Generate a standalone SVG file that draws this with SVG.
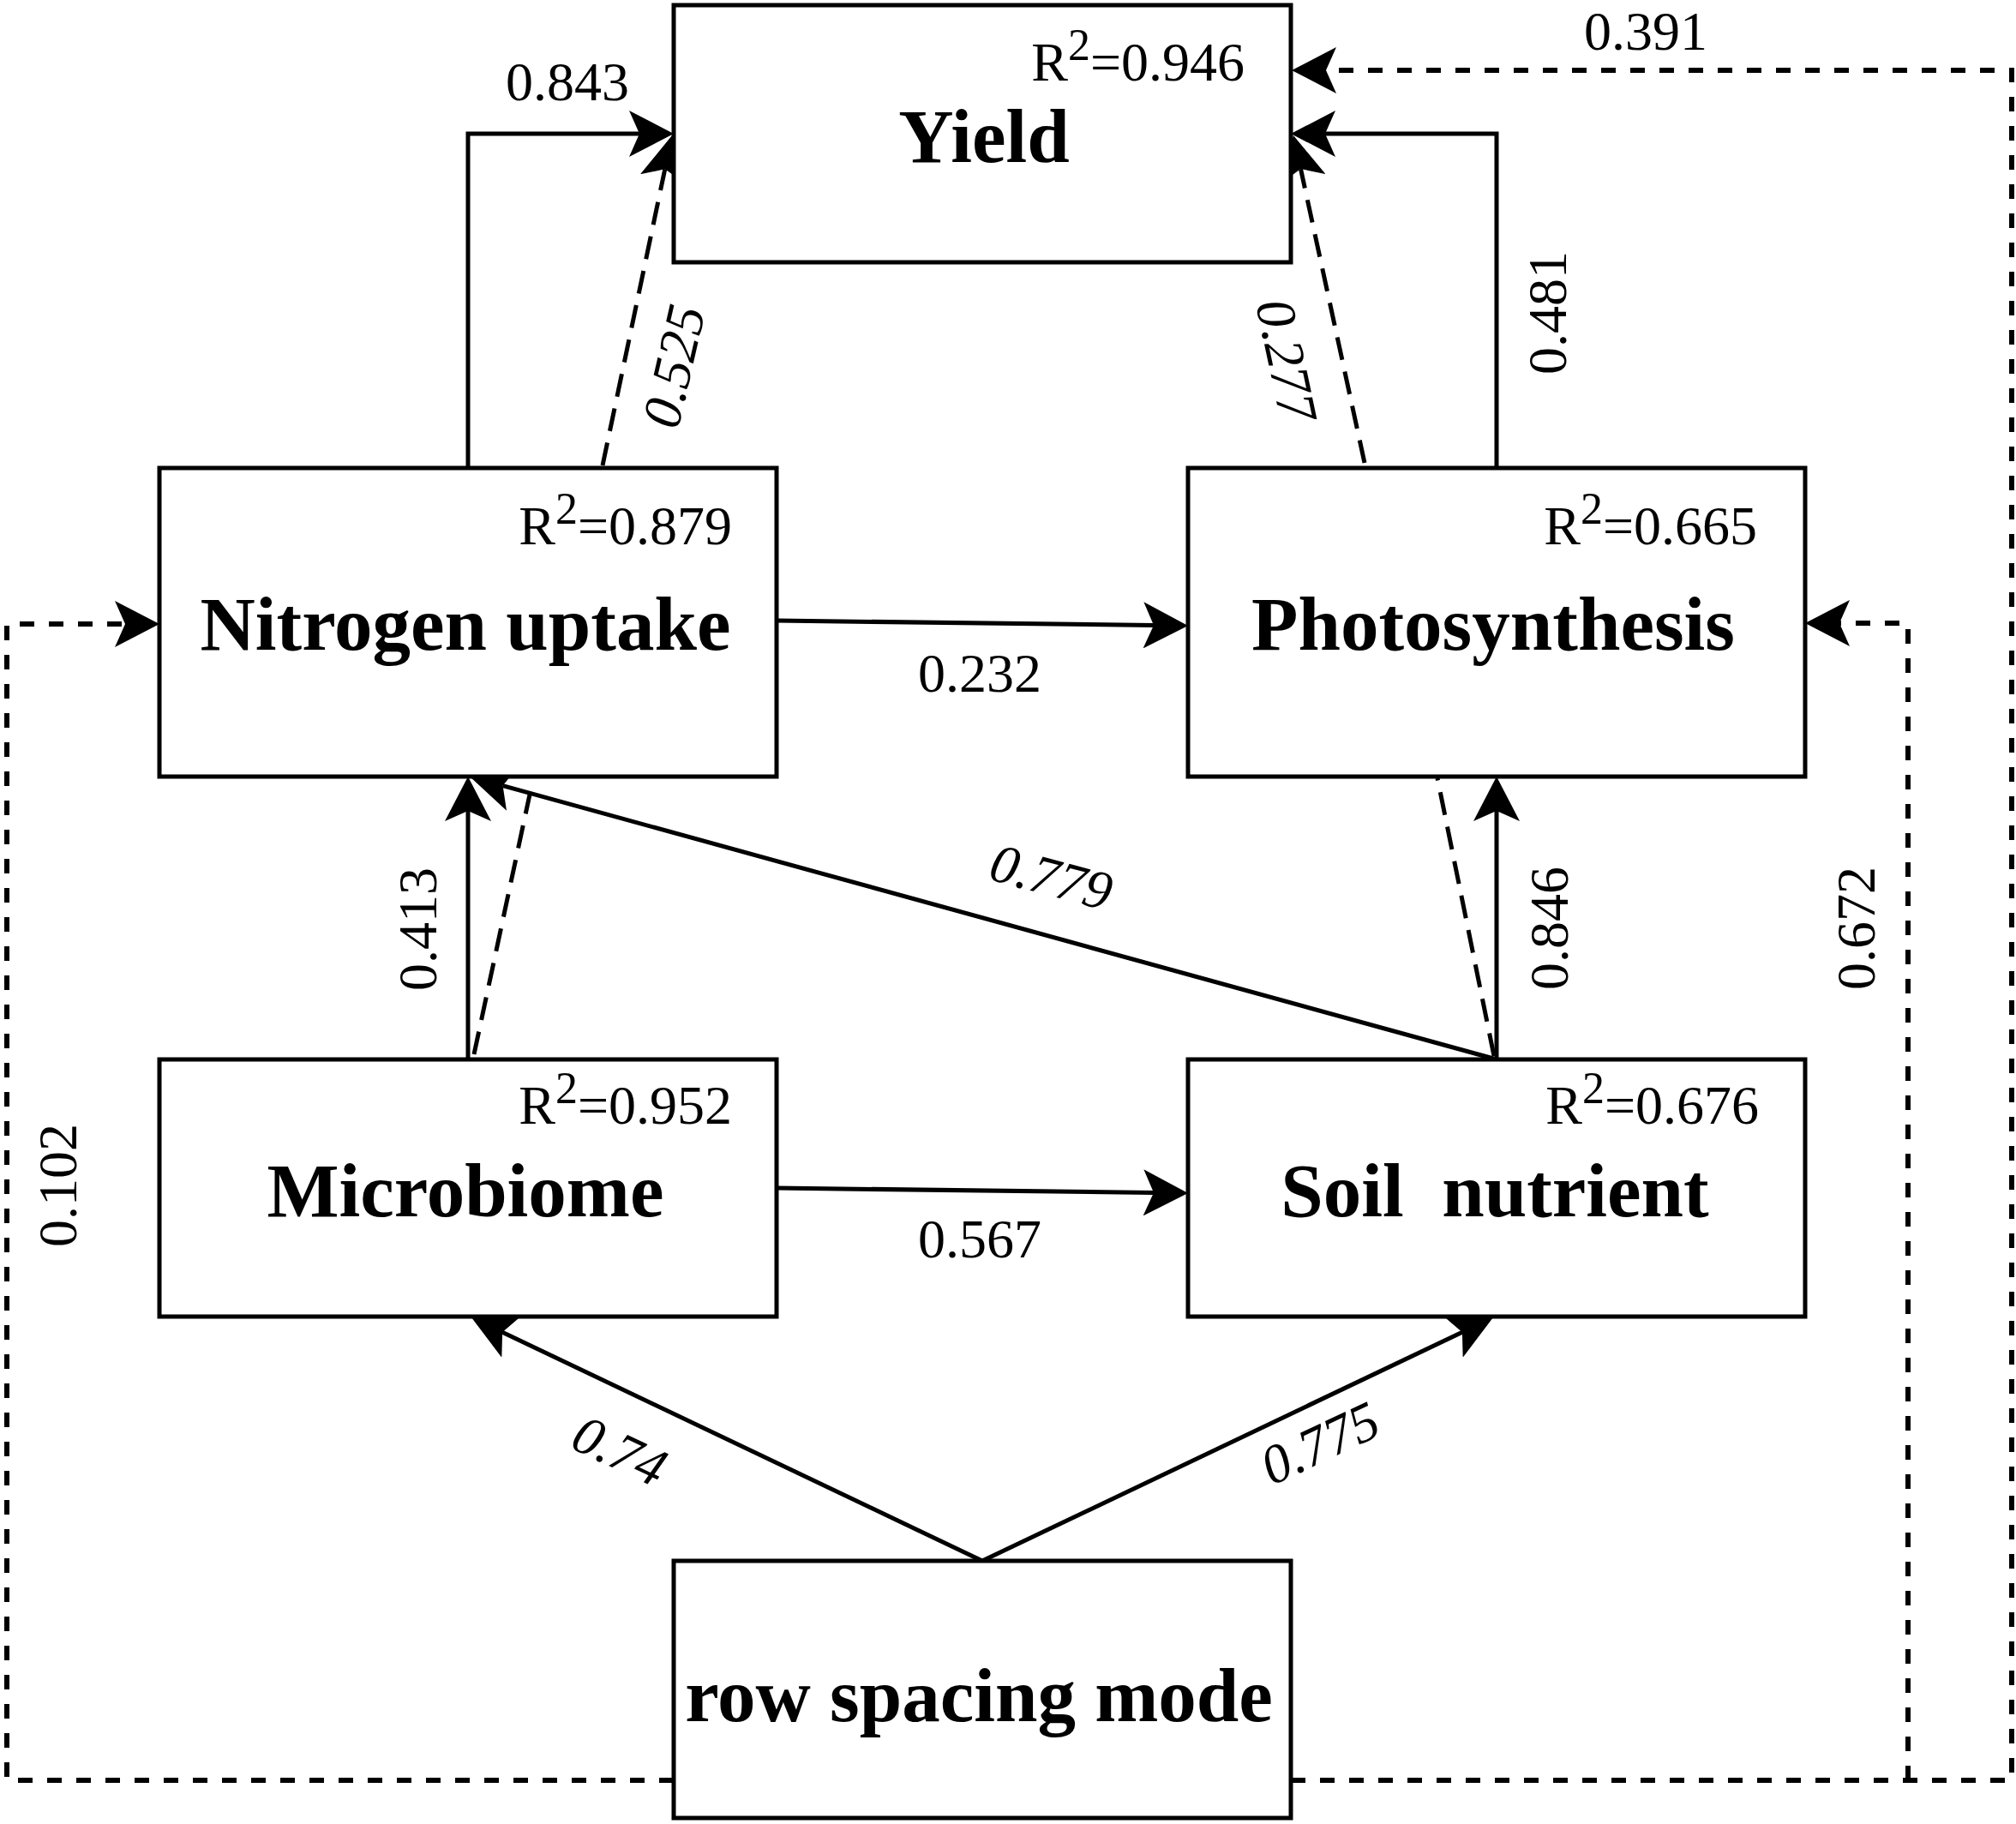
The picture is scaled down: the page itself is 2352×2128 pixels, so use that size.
<svg xmlns="http://www.w3.org/2000/svg" width="2352" height="2128" viewBox="0 0 2352 2128">
<style>
.box{fill:#fff;stroke:#000;stroke-width:5}
.title{font-family:"Liberation Serif","Times New Roman",serif;font-weight:bold;font-size:89px;text-anchor:middle;fill:#000}
.r2{font-family:"Liberation Serif","Times New Roman",serif;font-size:64px;text-anchor:end;fill:#000}
.lbl{font-family:"Liberation Serif","Times New Roman",serif;font-size:64px;text-anchor:middle;fill:#000}
.it{font-style:italic}
.solid{fill:none;stroke:#000;stroke-width:5}
.dash{fill:none;stroke:#000;stroke-width:6;stroke-dasharray:17 17}
.dash2{fill:none;stroke:#000;stroke-width:5;stroke-dasharray:27 14}
</style>
<defs>
<marker id="arr" markerUnits="userSpaceOnUse" viewBox="0 0 52 54" markerWidth="52" markerHeight="54" refX="12" refY="27" orient="auto">
<path d="M52,27 L0,0 L12,27 L0,54 Z" fill="#000"/>
</marker>
</defs>
<rect width="2352" height="2128" fill="#fff"/>
<g id="connectors">
<path class="solid" d="M546,546 L546,156 L746,156" marker-end="url(#arr)"/>
<path class="dash2" d="M703,543 L775.8,197.2" marker-end="url(#arr)"/>
<path class="solid" d="M1746,546 L1746,156 L1546,156" marker-end="url(#arr)"/>
<path class="dash2" d="M1592,540 L1517.5,197.1" marker-end="url(#arr)"/>
<path class="dash" d="M1506,2077 L2347,2077 L2347,82 L1547,82" marker-end="url(#arr)"/>
<path class="dash" d="M2226,2077 L2226,727 L2146,727" marker-end="url(#arr)"/>
<path class="dash" d="M786,2077 L8,2077 L8,728 L146,728" marker-end="url(#arr)"/>
<path class="solid" d="M906,724 L1346,729.5" marker-end="url(#arr)"/>
<path class="solid" d="M906,1386 L1346,1391.5" marker-end="url(#arr)"/>
<path class="solid" d="M546,1236 L546,946" marker-end="url(#arr)"/>
<path class="dash2" d="M553,1230 L618,927"/>
<path class="solid" d="M1746,1236 L586.6,916.6" marker-end="url(#arr)"/>
<path class="solid" d="M1746,1236 L1746,946" marker-end="url(#arr)"/>
<path class="dash2" d="M1743,1232 L1677,908"/>
<path class="solid" d="M1146,1821 L586.1,1554.2" marker-end="url(#arr)"/>
<path class="solid" d="M1146,1821 L1705.9,1554.2" marker-end="url(#arr)"/>
</g>
<g id="edge-labels">
<text class="lbl" x="662" y="117">0.843</text>
<text class="lbl" x="1920" y="58">0.391</text>
<text class="lbl" x="1143" y="807">0.232</text>
<text class="lbl" x="1143" y="1467">0.567</text>
<text class="lbl" transform="translate(1827,365) rotate(-90)">0.481</text>
<text class="lbl" transform="translate(509,1084) rotate(-90)">0.413</text>
<text class="lbl" transform="translate(1829,1083) rotate(-90)">0.846</text>
<text class="lbl" transform="translate(2187,1083) rotate(-90)">0.672</text>
<text class="lbl" transform="translate(89,1383) rotate(-90)">0.102</text>
<text class="lbl it" transform="translate(807,432) rotate(-77)">0.525</text>
<text class="lbl it" transform="translate(1480,425) rotate(78)">0.277</text>
<text class="lbl it" transform="translate(1221,1044) rotate(15)">0.779</text>
<text class="lbl it" transform="translate(714,1712) rotate(25)">0.74</text>
<text class="lbl it" transform="translate(1549,1703) rotate(-25)">0.775</text>
</g>
<g id="node-yield">
<rect class="box" x="786" y="6" width="720" height="300"/>
<text class="r2" x="1452" y="94">R<tspan dy="-24" font-size="52">2</tspan><tspan dy="24">=0.946</tspan></text>
<text class="title" x="1148" y="189">Yield</text>
</g>
<g id="node-nitrogen">
<rect class="box" x="186" y="546" width="720" height="360"/>
<text class="r2" x="854" y="635">R<tspan dy="-24" font-size="52">2</tspan><tspan dy="24">=0.879</tspan></text>
<text class="title" x="543" y="758">Nitrogen uptake</text>
</g>
<g id="node-photosynthesis">
<rect class="box" x="1386" y="546" width="720" height="360"/>
<text class="r2" x="2050" y="635">R<tspan dy="-24" font-size="52">2</tspan><tspan dy="24">=0.665</tspan></text>
<text class="title" x="1742" y="758">Photosynthesis</text>
</g>
<g id="node-microbiome">
<rect class="box" x="186" y="1236" width="720" height="300"/>
<text class="r2" x="854" y="1311">R<tspan dy="-24" font-size="52">2</tspan><tspan dy="24">=0.952</tspan></text>
<text class="title" x="543" y="1419">Microbiome</text>
</g>
<g id="node-soil">
<rect class="box" x="1386" y="1236" width="720" height="300"/>
<text class="r2" x="2052" y="1311">R<tspan dy="-24" font-size="52">2</tspan><tspan dy="24">=0.676</tspan></text>
<text class="title" x="1744" y="1419" xml:space="preserve">Soil  nutrient</text>
</g>
<g id="node-row-spacing">
<rect class="box" x="786" y="1821" width="720" height="300"/>
<text class="title" x="1142" y="2008">row spacing mode</text>
</g>
</svg>
